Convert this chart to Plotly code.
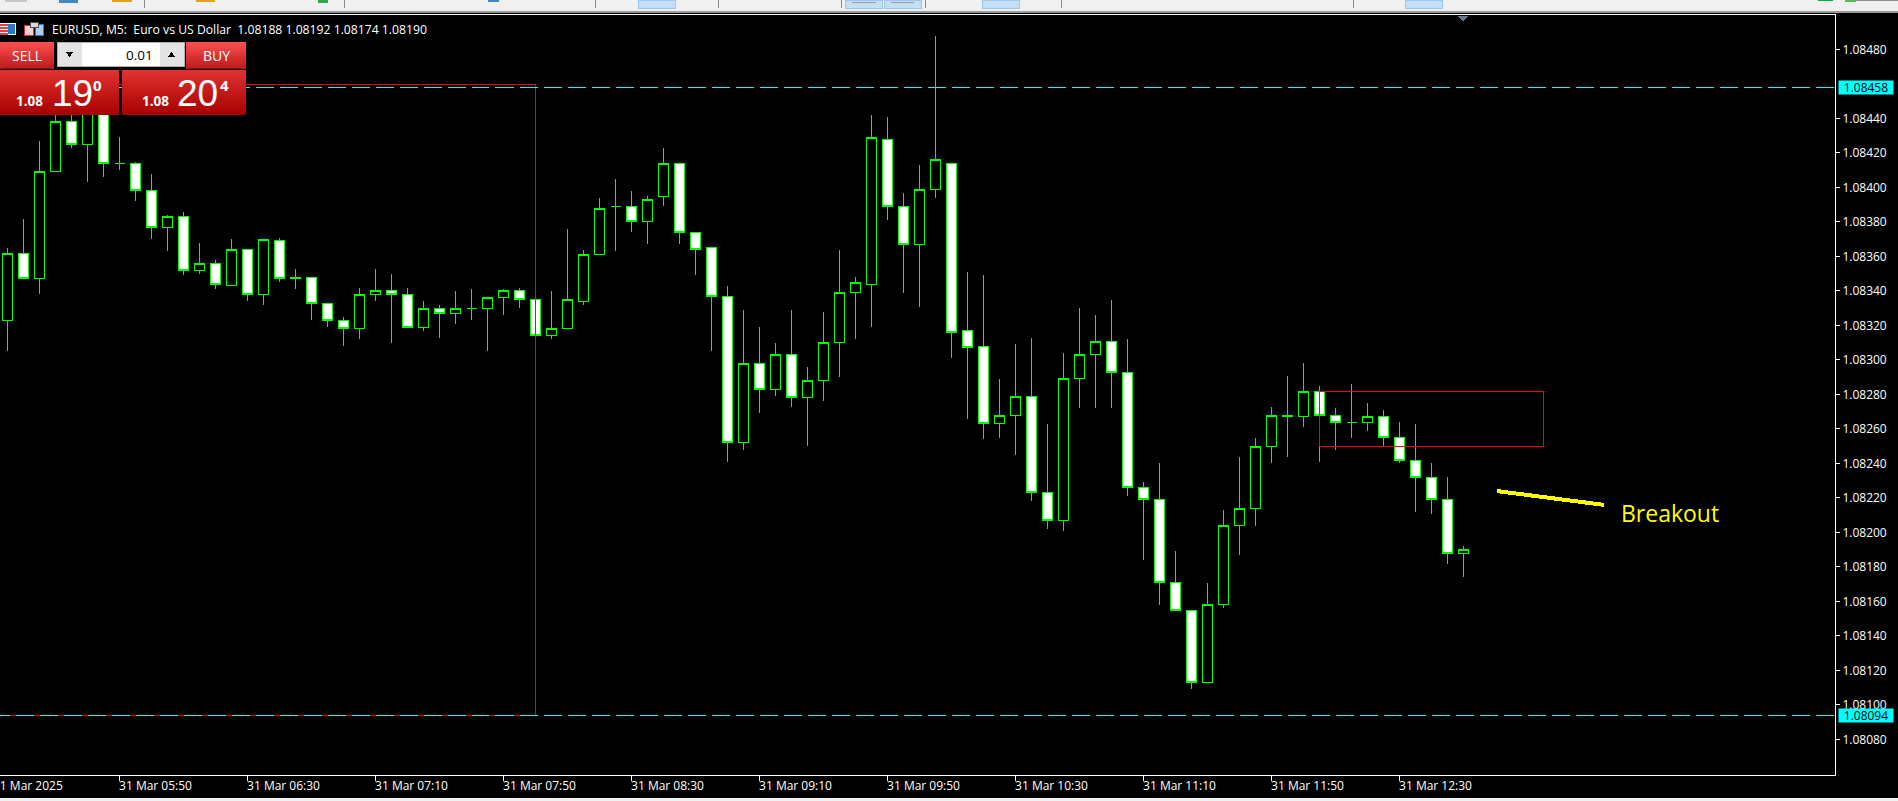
import pandas as pd
import plotly.graph_objects as go

open_pts = [323,362,347,409,438,425,448,414,414,398,377,383,352,356,343,364,338,369,347,348,333,323,318,338,340,338,319,330,327,330,
            330,336,340,335,314,318,334,361,389,389,380,395,414,374,365,337,252,298,283,303,278,288,310,339,344,428,389,367,399,414,
            317,308,263,268,279,223,207,289,303,311,293,226,219,171,155,113,158,204,214,250,268,267,282,268,264,264,267,255,242,232,219,188]
high_pts = [365,382,427,446,445,452,450,429,415,408,384,386,368,358,370,364,370,371,353,348,333,325,342,353,350,342,334,332,340,341,
            336,341,342,335,340,376,364,394,405,398,395,423,414,374,365,343,329,319,310,329,296,328,364,348,442,441,397,413,488,414,
            351,349,289,309,313,263,304,330,326,335,312,229,240,189,155,171,213,244,255,273,291,298,285,272,286,275,271,264,263,240,232,192]
low_pts =  [305,347,338,409,423,403,406,410,392,370,363,349,350,341,343,334,332,345,341,323,319,308,312,334,310,319,317,313,321,323,
            305,326,330,314,312,318,332,361,363,374,367,389,367,349,305,241,248,269,279,273,250,276,290,312,319,381,339,331,394,301,
            266,254,255,245,218,202,201,272,272,272,221,184,158,155,109,113,156,187,204,240,244,261,241,248,255,259,250,240,212,211,182,174]
close_pts =[362,347,409,438,425,448,414,414,398,377,383,352,356,344,364,338,370,347,348,333,323,318,338,340,338,319,330,327,330,330,
            336,340,335,314,318,335,361,388,389,380,393,414,374,364,337,252,298,283,303,278,288,310,339,345,429,389,367,399,416,316,
            307,263,268,279,223,207,289,303,311,293,226,219,171,155,113,158,204,214,250,268,267,282,268,264,264,267,255,242,232,219,188,190]

first_bar = "2025-03-31 05:15"
bar_times = pd.date_range(first_bar, periods=len(open_pts), freq="5min")

tick_times = ["2025-03-31 05:50","2025-03-31 06:30","2025-03-31 07:10","2025-03-31 07:50","2025-03-31 08:30","2025-03-31 09:10",
              "2025-03-31 09:50","2025-03-31 10:30","2025-03-31 11:10","2025-03-31 11:50","2025-03-31 12:30"]
tick_labels = ["31 Mar 05:50","31 Mar 06:30","31 Mar 07:10","31 Mar 07:50","31 Mar 08:30","31 Mar 09:10",
               "31 Mar 09:50","31 Mar 10:30","31 Mar 11:10","31 Mar 11:50","31 Mar 12:30"]
price_ticks = [1.0808,1.0810,1.0812,1.0814,1.0816,1.0818,1.0820,1.0822,1.0824,1.0826,1.0828,1.0830,1.0832,1.0834,
               1.0836,1.0838,1.0840,1.0842,1.0844,1.0848]
x_window = ["2025-03-31 05:12:39.375", "2025-03-31 14:46:05.625"]
y_window = [1.080594, 1.085]

upper_level = 1.08458
lower_level = 1.08094
big_box = dict(x0="2025-03-31 04:30", x1="2025-03-31 08:00", y0=1.08094, y1=1.08460)
small_box = dict(x0="2025-03-31 12:05", x1="2025-03-31 13:15", y0=1.08250, y1=1.08282)
arrow_x = ["2025-03-31 13:00:30", "2025-03-31 13:33:54"]
arrow_y = [1.08224, 1.08216]

FONT = "Open Sans"
W, H = 1898, 801
L, R, T, B = 0, 1835, 15, 775


def to_price(points):
    return [round(1.08 + p / 100000, 5) for p in points]


def px(x):
    return (x - L) / (R - L)


def py(y):
    return (B - y) / (B - T)


def rect(x0, y0, x1, y1, fill, line=None, lw=1):
    return dict(type="rect", xref="paper", yref="paper", layer="above",
                x0=px(x0), x1=px(x1), y0=py(y0), y1=py(y1), fillcolor=fill,
                line=dict(color=line or fill, width=lw if line else 0))


def gradient(x0, y0, x1, y1, top, bottom):
    out = []
    n = int(round(y1 - y0))
    for i in range(n):
        f = i / max(n - 1, 1)
        c = [round(top[j] + (bottom[j] - top[j]) * f) for j in range(3)]
        out.append(rect(x0, y0 + i, x1, y0 + i + 1.4, f"rgb({c[0]},{c[1]},{c[2]})"))
    return out


def tri(points, color):
    d = "M" + " L".join(f"{px(a)},{py(b)}" for a, b in points) + " Z"
    return dict(type="path", xref="paper", yref="paper", layer="above", path=d,
                fillcolor=color, line=dict(color=color, width=0))


def text(s, x, y, size, color="#ffffff", anchor="left", family=FONT, bold=False):
    return dict(text=f"<b>{s}</b>" if bold else s, xref="paper", yref="paper", x=px(x), y=py(y),
                xanchor=anchor, yanchor="middle", showarrow=False, borderpad=0,
                font=dict(family=family, size=size, color=color))


fig = go.Figure(go.Candlestick(
    x=bar_times,
    open=to_price(open_pts), high=to_price(high_pts), low=to_price(low_pts), close=to_price(close_pts),
    whiskerwidth=0,
    increasing=dict(fillcolor="#000000", line=dict(color="#00ff00", width=1)),
    decreasing=dict(fillcolor="#ffffff", line=dict(color="#00ff00", width=1)),
    hoverinfo="skip",
    showlegend=False,
))

shapes = []
# drawings on the chart
for box in (big_box, small_box):
    shapes.append(dict(type="rect", xref="x", yref="y", layer="above", line=dict(color="#ff0000", width=1),
                       fillcolor="rgba(0,0,0,0)", **box))
for level in (upper_level, lower_level):
    shapes.append(dict(type="line", xref="x", yref="y", layer="above", x0="2025-03-31 05:10", x1=x_window[1],
                       y0=level, y1=level, line=dict(color="#00ffff", width=1.3, dash="18px,6px")))
shapes.append(dict(type="line", xref="x", yref="y", layer="above", x0=arrow_x[0], x1=arrow_x[1],
                   y0=arrow_y[0], y1=arrow_y[1], line=dict(color="#ffff00", width=4)))

# terminal toolbar strip
shapes.append(rect(0, 0, W, 11.5, "#f0f0f0"))
shapes.append(rect(0, 11, W, 13, "#9a9a9a"))
shapes.append(rect(0, 798, W, 801, "#f0f0f0"))
for a, b in [(638, 675), (845.5, 882.5), (884, 921), (982, 1019), (1405, 1442)]:
    shapes.append(rect(a, 0, b, 8, "#c4def5", "#9cc6ea"))
for x in (143.6, 344, 594.5, 717.5, 840.6, 925, 1061, 1352.7):
    shapes.append(rect(x, 0, x + 1, 8, "#8a8a8a"))
for a, b, h, c in [(5, 27, 2, "#c8c8c8"), (59, 77.6, 3, "#3f88c8"), (111.5, 131.5, 2, "#e3a21a"),
                   (195.8, 215, 2, "#e3a21a"), (318, 328, 3, "#2ea84a"), (488, 499, 2, "#3f88c8"),
                   (1818, 1833, 1, "#10b030"), (1845, 1856, 2, "#50c050"), (1856, 1898, 1, "#909090")]:
    shapes.append(rect(a, 0, b, h, c))
for a, b in [(852, 876), (891, 914)]:
    shapes.append(rect(a, 2, b, 3, "#9a9a9a"))
shapes.append(tri([(1457.5, 16), (1468.5, 16), (1463, 22)], "#64788c"))

# trade panel
shapes += gradient(0, 42, 54, 69, (250, 80, 80), (190, 25, 25))
shapes += gradient(186, 42, 246, 69, (250, 80, 80), (190, 25, 25))
shapes.append(rect(3, 68, 51, 69, "#8c1010"))
shapes.append(rect(189, 68, 242, 69, "#8c1010"))
shapes += gradient(0, 70, 119.3, 115, (224, 50, 50), (168, 0, 0))
shapes += gradient(122, 70, 246, 115, (224, 50, 50), (168, 0, 0))
shapes.append(rect(57, 42, 184, 66.7, "#e4e4e4", "#b0b0b0"))
shapes.append(rect(82, 43, 159.5, 66, "#ffffff"))
shapes.append(tri([(66, 52), (73, 52), (69.5, 57)], "#000000"))
shapes.append(tri([(168, 57), (175, 57), (171.5, 52)], "#000000"))

# header icons
shapes.append(rect(0, 23, 16, 35, "#ffffff"))
for y in (24, 27, 30, 33):
    shapes.append(rect(0, y, 8, y + 1.5, "#e04040"))
shapes.append(rect(8, 24, 15, 34, "#2a78c8"))
shapes.append(rect(24, 25, 33, 35, "#f4d4d0", "#d83030"))
shapes.append(rect(35, 24, 43, 35, "#a8d0f0", "#2a78c8"))
shapes.append(rect(30, 22, 38, 27, "#d8d8d8", "#505050"))

annotations = [
    text("31 Mar 2025", -8.5, 785.5, 12),
    text("EURUSD, M5:\u00a0\u00a0Euro vs US Dollar\u00a0\u00a01.08188 1.08192 1.08174 1.08190", 50.7, 29.5, 12.2),
    text("SELL", 27, 55.5, 14, "#ffffff", "center"),
    text("BUY", 216, 55.5, 14, "#ffffff", "center"),
    text("0.01", 153.5, 55, 13.5, "#000000", "right"),
    text("1.08", 15, 101, 13.5, bold=True),
    text("19", 50.5, 93.5, 37, family="Liberation Sans"),
    text("0", 97, 85, 15, "#ffffff", "center", bold=True),
    text("1.08", 141, 101, 13.5, bold=True),
    text("20", 176, 93.5, 37, family="Liberation Sans"),
    text("4", 224.5, 85, 15, "#ffffff", "center", bold=True),
    text("Breakout", 1619.5, 512.5, 23, "#ffff00"),
]
for level, label in [(upper_level, "1.08458"), (lower_level, "1.08094")]:
    annotations.append(dict(text=label, xref="paper", yref="y", x=px(1838), y=level, xanchor="left", yanchor="middle",
                            showarrow=False, width=54, height=13, bgcolor="#00ffff", borderpad=0, align="center",
                            font=dict(family=FONT, size=12, color="#000000")))

fig.update_layout(
    width=W, height=H, margin=dict(l=L, r=W - R, t=T, b=H - B, pad=0), autosize=False,
    paper_bgcolor="#000000", plot_bgcolor="#000000", boxgap=0.107, showlegend=False,
    font=dict(family=FONT, size=12, color="#ffffff"),
    shapes=shapes, annotations=annotations,
    xaxis=dict(type="date", range=x_window, rangeslider=dict(visible=False), showgrid=False, zeroline=False,
               tickmode="array", tickvals=tick_times, ticktext=tick_labels, ticks="outside", ticklen=5, tickwidth=1,
               tickcolor="#ffffff", showline=True, linecolor="#ffffff", linewidth=1, mirror=True,
               ticklabelshift=36, ticklabelstandoff=-5, tickangle=0,
               tickfont=dict(family=FONT, size=12, color="#ffffff")),
    yaxis=dict(range=y_window, side="right", showgrid=False, zeroline=False, tickmode="array",
               tickvals=price_ticks, ticktext=[f"{p:.5f}" for p in price_ticks], ticks="outside", ticklen=4, tickwidth=1,
               tickcolor="#ffffff", showline=True, linecolor="#ffffff", linewidth=1,
               tickfont=dict(family=FONT, size=12, color="#ffffff")),
)

crisp = ("var s=document.createElement('style');"
         "s.textContent='.shapelayer path,.boxlayer path,.boxes path{shape-rendering:crispEdges !important}';"
         "document.head.appendChild(s);"
         "document.body.style.margin='0';document.body.style.background='#000';document.body.style.overflow='hidden';")
fig.write_html("out.html", config=dict(displayModeBar=False), post_script=crisp)
